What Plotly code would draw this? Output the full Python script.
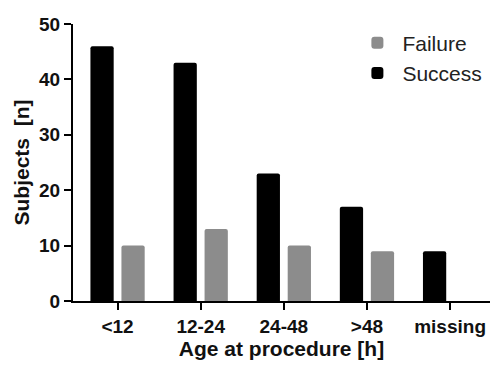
import plotly.graph_objects as go

categories = ["<12", "12-24", "24-48", ">48", "missing"]
success = [46, 43, 23, 17, 9]
failure = [10, 13, 10, 9, 0]
y_ticks = [0, 10, 20, 30, 40, 50]

FONT = "Liberation Sans, Arial, Helvetica, sans-serif"

fig = go.Figure()
fig.add_trace(go.Bar(x=categories, y=success, name="Success",
                     marker=dict(color="#000000", line=dict(width=0))))
fig.add_trace(go.Bar(x=categories, y=failure, name="Failure",
                     marker=dict(color="#8c8c8c", line=dict(width=0))))

fig.update_layout(
    width=492, height=367,
    margin=dict(l=73, r=2, t=24, b=66),
    plot_bgcolor="white", paper_bgcolor="white",
    barmode="group", bargap=0.254, bargroupgap=0.25,
    barcornerradius=2,
    showlegend=True,
    legend=dict(traceorder="reversed", x=0.67, y=1.005, xanchor="left", yanchor="top",
                font=dict(family=FONT, size=21, color="#222"),
                bgcolor="rgba(0,0,0,0)", itemwidth=40, tracegroupgap=0),
    font=dict(family=FONT, color="#111"),
)
fig.update_xaxes(
    range=[-0.536, 4.48], showline=True, linecolor="black", linewidth=2,
    ticks="outside", ticklen=7, tickwidth=2, tickcolor="black", automargin=False,
    tickfont=dict(family=FONT, size=19, weight="bold", color="#111"),
    title=dict(text="Age at procedure [h]", standoff=6,
               font=dict(family=FONT, size=21, weight="bold", color="#111")),
    showgrid=False, zeroline=False,
)
fig.update_yaxes(
    range=[0, 50], tickvals=y_ticks, showline=True, linecolor="black", linewidth=2,
    ticks="outside", ticklen=7, tickwidth=2, tickcolor="black", automargin=False,
    tickfont=dict(family=FONT, size=19, weight="bold", color="#111"),
    title=dict(text="Subjects  [n]", standoff=4,
               font=dict(family=FONT, size=21, weight="bold", color="#111")),
    showgrid=False, zeroline=False,
)

fig.write_html("out.html", config={"displayModeBar": False},
               post_script="document.body.style.margin='0';document.body.style.overflow='hidden';")
